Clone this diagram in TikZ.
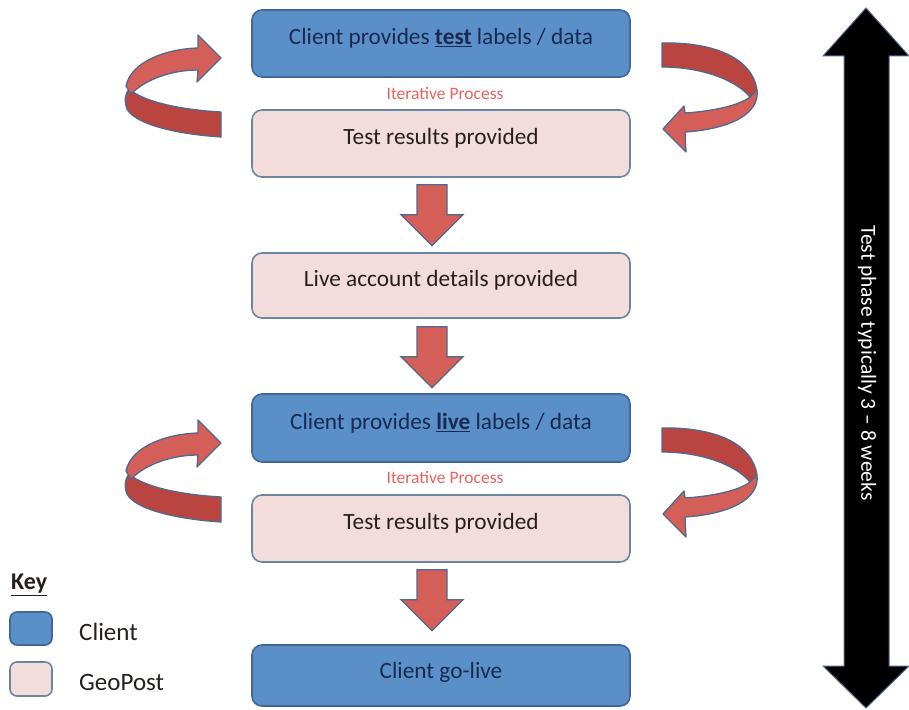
\documentclass[tikz,border=0pt]{standalone}
\usepackage{fontspec}
\setmainfont{Carlito}
\usetikzlibrary{calc}
\begin{document}
\begin{tikzpicture}[x=1pt,y=-1pt]
\definecolor{cfill}{RGB}{91,143,200}
\definecolor{cline}{RGB}{63,104,150}
\definecolor{ctext}{RGB}{22,42,82}
\definecolor{gfill}{RGB}{242,221,220}
\definecolor{gline}{RGB}{108,134,162}
\definecolor{gtext}{RGB}{40,30,30}
\definecolor{afront}{RGB}{212,94,88}
\definecolor{aback}{RGB}{186,68,64}
\definecolor{aline}{RGB}{80,105,140}
\definecolor{itred}{RGB}{232,98,95}
\tikzset{
  clientbox/.style={draw=cline, line width=1.6pt, fill=cfill, rounded corners=10pt},
  geobox/.style={draw=gline, line width=1.6pt, fill=gfill, rounded corners=10pt},
  ctxt/.style={text=ctext, font=\fontsize{23.3}{27}\selectfont, inner sep=0pt},
  gtxt/.style={text=gtext, font=\fontsize{23.3}{27}\selectfont, inner sep=0pt},
  itxt/.style={text=itred, font=\fontsize{17.5}{20}\selectfont, inner sep=0pt},
  keytxt/.style={text=gtext, font=\fontsize{25}{29}\selectfont, inner sep=0pt, anchor=west},
  blockarrow/.style={fill=afront, draw=aline, line width=1.3pt, line join=miter},
  curlfront/.style={fill=afront, draw=aline, line width=1.3pt, line join=round},
  curlback/.style={fill=aback, draw=aline, line width=1.3pt, line join=round},
  leftcurl/.pic={
    \path[curlback] (129,89) .. controls (145,103) and (185,110) .. (221,112)
      -- (221,137) .. controls (175,134) and (135,124) .. (127,109)
      .. controls (124,101) and (125,94) .. (129,89) -- cycle;
    \path[curlfront] (198,48) .. controls (165,49) and (131,62) .. (126,86)
      -- (131,94) .. controls (146,79) and (172,70) .. (198,70)
      -- (197,82) -- (221,58) -- (198,35) -- cycle;
  },
  rightcurl/.pic={
    \path[curlback] (662,43) .. controls (712,42) and (752,57) .. (757,90)
      -- (750,97) .. controls (735,79) and (700,67) .. (662,67) -- cycle;
    \path[curlfront] (757,90) .. controls (760,114) and (730,129) .. (685,132)
      -- (686,152) -- (663,129) -- (684,106) -- (685,113)
      .. controls (715,111) and (740,105) .. (750,97) -- cycle;
  },
  downarrow/.pic={
    \path[blockarrow] (-15,0) -- (15,0) -- (15,30) -- (31,30) -- (0,61)
      -- (-31,30) -- (-15,30) -- cycle;
  }
}
\useasboundingbox (0,0) rectangle (909,709);
\fill[white] (0,0) rectangle (909,709);

% boxes
\node[clientbox, minimum width=378, minimum height=67] (b1) at (441,43.5) {};
\node[ctxt] (b1t) at ($(b1.center)+(0,-5)$) {Client provides \underline{\textbf{test}} labels / data};
\node[itxt] (it1) at (445,94) {Iterative Process};
\node[geobox, minimum width=378, minimum height=67] (b2) at (441,143.5) {};
\node[gtxt] (b2t) at ($(b2.center)+(0,-5)$) {Test results provided};
\node[geobox, minimum width=378, minimum height=65] (b3) at (441,285.5) {};
\node[gtxt] (b3t) at ($(b3.center)+(0,-5)$) {Live account details provided};
\node[clientbox, minimum width=378, minimum height=68] (b4) at (441,428) {};
\node[ctxt] (b4t) at ($(b4.center)+(0,-5)$) {Client provides \underline{\textbf{live}} labels / data};
\node[itxt] (it2) at (445,478) {Iterative Process};
\node[geobox, minimum width=378, minimum height=67] (b5) at (441,528.5) {};
\node[gtxt] (b5t) at ($(b5.center)+(0,-5)$) {Test results provided};
\node[clientbox, minimum width=378, minimum height=61] (b6) at (441,675.5) {};
\node[ctxt] (b6t) at ($(b6.center)+(0,-3)$) {Client go-live};

% down block arrows between boxes
\pic at ($(b2.south)+(-9,7)$) {downarrow};
\pic at ($(b3.south)+(-9,8)$) {downarrow};
\pic at ($(b5.south)+(-9,7)$) {downarrow};

% iterative curls
\pic at (0,0) {leftcurl};
\pic at (0,0) {rightcurl};
\pic at (0,385) {leftcurl};
\pic at (0,385) {rightcurl};

% test phase double arrow
\path[fill=black, draw=aline, line width=1pt, line join=miter]
  (866,8) -- (909,56) -- (889,56) -- (889,666) -- (909,666) -- (866,708)
  -- (823,666) -- (844,666) -- (844,56) -- (823,56) -- cycle;
\node[text=white, font=\fontsize{21.5}{25}\selectfont, rotate=-90, inner sep=0pt] (phase) at (867,363) {Test phase typically 3 -- 8 weeks};

% key
\node[text=gtext, font=\fontsize{24}{28}\selectfont\bfseries, inner sep=0pt, anchor=west] (key) at (11,585) {\underline{Key}};
\node[clientbox, rounded corners=7pt, minimum width=42, minimum height=33] (kc) at (31,628.5) {};
\node[keytxt] (kct) at (79,632) {Client};
\node[geobox, rounded corners=7pt, minimum width=42, minimum height=34] (kg) at (31,679) {};
\node[keytxt] (kgt) at (79,682) {GeoPost};
\end{tikzpicture}
\end{document}
